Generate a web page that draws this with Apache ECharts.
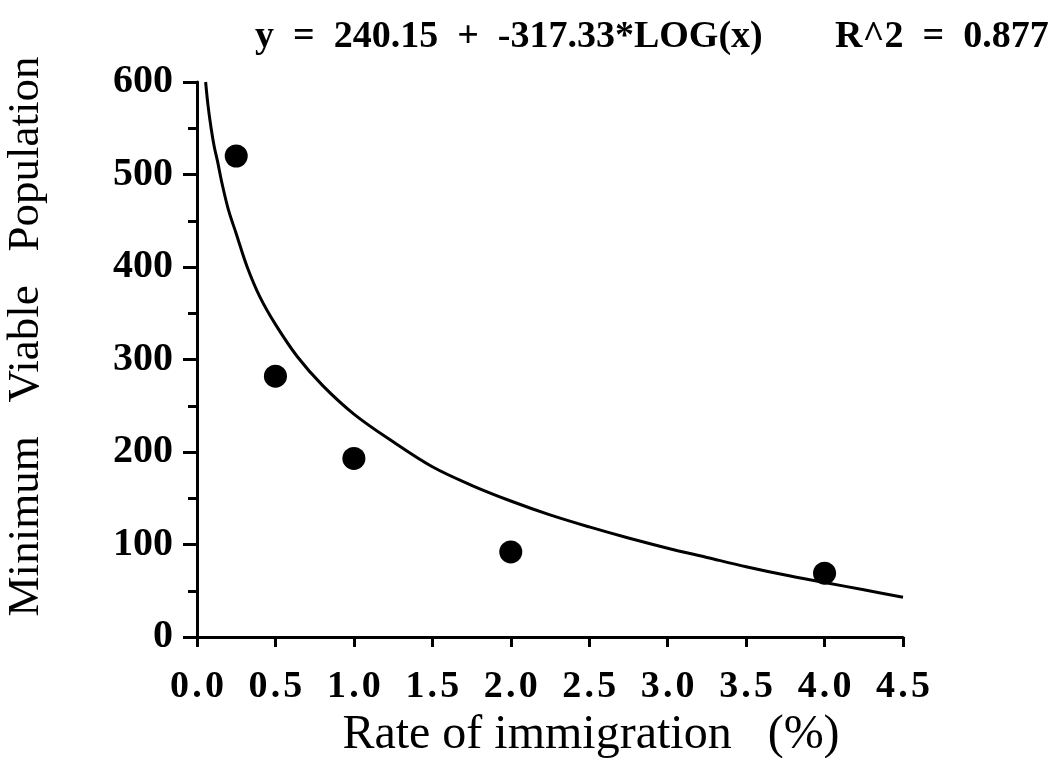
<!DOCTYPE html>
<html>
<head>
<meta charset="utf-8">
<script src="https://cdn.jsdelivr.net/npm/echarts@6/dist/echarts.min.js"></script>
<style>
html,body{margin:0;padding:0;background:#fff;}
#chart{width:1057px;height:758px;}
</style>
</head>
<body>
<div id="chart"></div>
<script>
// Observed data points
var immigrationRate = [0.25, 0.5, 1.0, 2.0, 4.0];
var minViablePop = [520, 282, 193, 92, 69];

// Fitted curve
var fitX = [0.055, 0.07, 0.09, 0.11, 0.13, 0.16, 0.2, 0.25, 0.32, 0.4, 0.5, 0.64, 0.8, 1.0, 1.25, 1.5, 1.75, 2.0, 2.25, 2.5, 2.75, 3.0, 3.25, 3.5, 3.75, 4.0, 4.25, 4.5];
var fitY = [600, 575, 550, 530, 515, 490, 462, 436, 400, 368, 338, 303, 272, 241, 211, 184, 164, 147, 132, 119, 107, 96, 86, 76, 67, 59, 51, 43];

// Texts
var equationText = 'y  =  240.15  +  -317.33*LOG(x)';
var r2Text = 'R^2  =  0.877';
var xAxisName = 'Rate of immigration   (%)';
var yAxisName = 'Minimum   Viable   Population';

var FONT = '"Liberation Serif", "DejaVu Serif", serif';

var pts = immigrationRate.map(function (x, i) { return [x, minViablePop[i]]; });
var curve = fitX.map(function (x, i) { return [x, fitY[i]]; });

var chart = echarts.init(document.getElementById('chart'), null, {renderer: 'canvas'});
chart.setOption({
  backgroundColor: '#ffffff',
  animation: false,
  title: [
    {text: equationText, left: 250, top: 13, textStyle: {fontFamily: FONT, fontSize: 38, fontWeight: 'bold', color: '#000'}},
    {text: r2Text, left: 830, top: 13, textStyle: {fontFamily: FONT, fontSize: 38, fontWeight: 'bold', color: '#000'}}
  ],
  grid: {left: 197, right: 154, top: 82, bottom: 121, containLabel: false, outerBoundsMode: 'none'},
  xAxis: {
    type: 'value', min: 0, max: 4.5, interval: 0.5,
    name: xAxisName, nameLocation: 'middle', nameGap: 72,
    nameTextStyle: {fontFamily: FONT, fontSize: 48, color: '#000', padding: [0, 0, 0, 82]},
    axisLine: {show: true, lineStyle: {color: '#000', width: 3}},
    axisTick: {show: true, inside: false, length: 10, lineStyle: {color: '#000', width: 3}},
    splitLine: {show: false},
    axisLabel: {
      margin: 31, color: '#000', fontFamily: FONT, fontSize: 38, fontWeight: 'bold',
      formatter: function (v) { return v.toFixed(1).split('').join('\u200A'); }
    }
  },
  yAxis: {
    type: 'value', min: 0, max: 600, interval: 100,
    name: yAxisName, nameLocation: 'middle', nameGap: 148,
    nameTextStyle: {fontFamily: FONT, fontSize: 45, color: '#000', padding: [0, 0, 0, 46]},
    axisLine: {show: true, lineStyle: {color: '#000', width: 3}},
    axisTick: {show: true, inside: false, length: 14, lineStyle: {color: '#000', width: 3}},
    minorTick: {show: true, splitNumber: 2, length: 9, lineStyle: {color: '#000', width: 3}},
    splitLine: {show: false},
    axisLabel: {margin: 24, color: '#000', fontFamily: FONT, fontSize: 40, fontWeight: 'bold'}
  },
  series: [
    {
      type: 'line', data: curve, smooth: 0.35, showSymbol: false, symbol: 'none',
      lineStyle: {color: '#000', width: 3}, z: 2
    },
    {
      type: 'scatter', data: pts, symbol: 'circle', symbolSize: 23,
      itemStyle: {color: '#000', opacity: 1}, z: 3
    }
  ]
});
</script>
</body>
</html>
